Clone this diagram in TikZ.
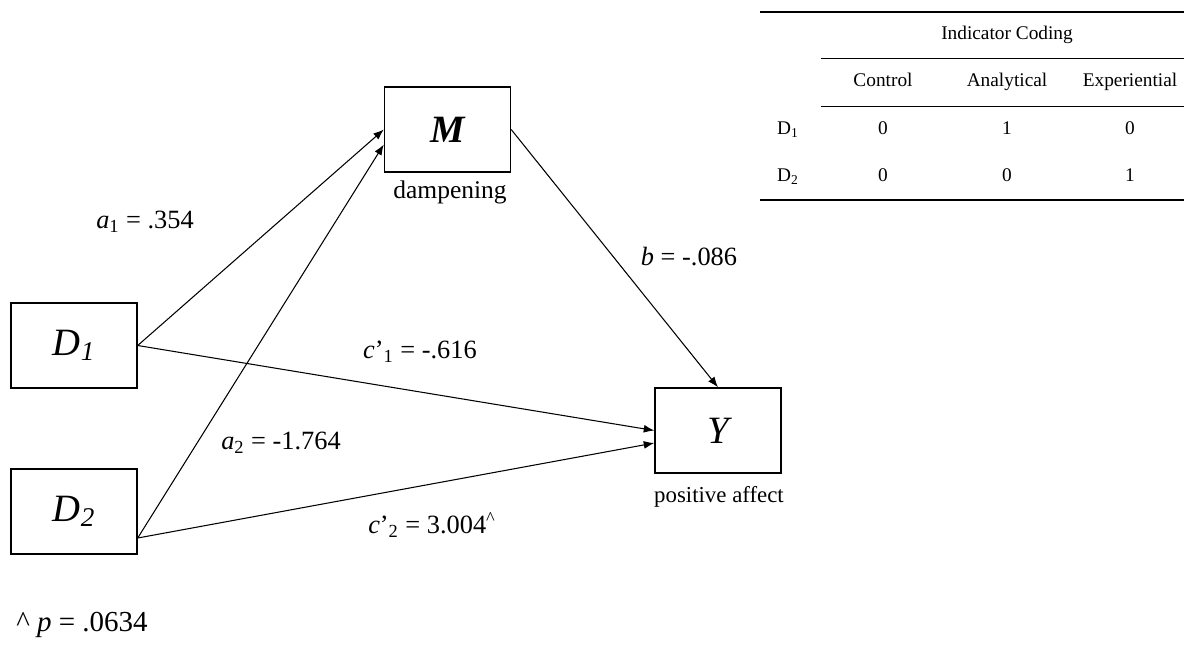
\documentclass[tikz,border=0pt]{standalone}
\usepackage{fontspec}
\setmainfont{Liberation Serif}
\usetikzlibrary{arrows.meta, positioning, calc}
\tikzset{
  varbox/.style  = {draw, line width=0.8pt, minimum width=2.52cm, minimum height=1.7cm,
                    font=\fontsize{22}{26}\selectfont\itshape},
  coef/.style    = {font=\fontsize{15}{18}\selectfont, inner sep=1pt},
  caption/.style = {font=\fontsize{14.5}{17}\selectfont, inner sep=1pt},
  arr/.style     = {-{Latex[length=6pt,width=4.5pt]}, line width=0.6pt},
  thinrule/.style  = {line width=0.5pt},
  thickrule/.style = {line width=0.9pt},
  cell/.style    = {font=\fontsize{11}{13}\selectfont, inner sep=1pt,
                    text height=1.6ex, text depth=0.4ex},
}

\begin{document}
\begin{tikzpicture}
  \useasboundingbox (0,0) rectangle (23.68,-13.04);

  % variables
  \node[varbox, font=\fontsize{22}{26}\selectfont\bfseries\itshape] (M) at (8.95,-2.59) {M};
  \node[varbox] (D1) at (1.48,-6.91)  {D\textsubscript{1}};
  \node[varbox] (D2) at (1.48,-10.23) {D\textsubscript{2}};
  \node[varbox] (Y)  at (14.36,-8.61) {Y};

  \node[caption] (mlab) at (9.0,-3.84)  {dampening};
  \node[caption, font=\fontsize{13}{16}\selectfont] (ylab) at (14.38,-9.94) {positive affect};

  \coordinate (d2out) at ($(D2.east)+(0,-0.53)$);
  \coordinate (m2in)  at ($(M.west)+(0,-0.3)$);
  \coordinate (y2in)  at ($(Y.west)+(0,-0.25)$);

  % paths
  \draw[arr] (D1.east) -- (M.west);
  \draw[arr] (d2out) -- (m2in);
  \draw[arr] (D1.east) -- (Y.west);
  \draw[arr] (d2out) -- (y2in);
  \draw[arr] (M.east) -- (Y.north);

  % coefficients
  \node[coef] (a1) at (2.9,-4.44)   {\textit{a}\textsubscript{1} = .354};
  \node[coef] (bb) at (13.78,-5.14) {\textit{b} = -.086};
  \node[coef] (c1) at (8.4,-7.04)   {\textit{c}’\textsubscript{1} = -.616};
  \node[coef] (a2) at (5.62,-8.86)  {\textit{a}\textsubscript{2} = -1.764};
  \node[coef] (c2) at (8.64,-10.5)  {\textit{c}’\textsubscript{2} = 3.004\textsuperscript{\textasciicircum}};
  \node[coef, font=\fontsize{16.5}{19}\selectfont] (pp) at (1.64,-12.5) {\textasciicircum\ \textit{p} = .0634};

  % coding table
  \draw[thickrule] (15.2,-0.24) -- (23.68,-0.24);
  \draw[thinrule]  (16.42,-1.16) -- (23.68,-1.16);
  \draw[thinrule]  (16.42,-2.12) -- (23.68,-2.12);
  \draw[thickrule] (15.2,-4.0) -- (23.68,-4.0);

  \node[cell] (head) at (20.14,-0.7) {Indicator Coding};
  \node[cell] (ctl) at (17.66,-1.64) {Control};
  \node[cell] (ana) at (20.14,-1.64) {Analytical};
  \node[cell] (exp) at (22.6,-1.64)  {Experiential};

  \node[cell] (r1) at (15.76,-2.6)  {D\textsubscript{1}};
  \node[cell] (r2) at (15.76,-3.54) {D\textsubscript{2}};
  \foreach \x/\v in {17.66/0, 20.14/1, 22.6/0}
    \node[cell] at (\x,-2.6) {\v};
  \foreach \x/\v in {17.66/0, 20.14/0, 22.6/1}
    \node[cell] at (\x,-3.54) {\v};

\end{tikzpicture}
\end{document}
